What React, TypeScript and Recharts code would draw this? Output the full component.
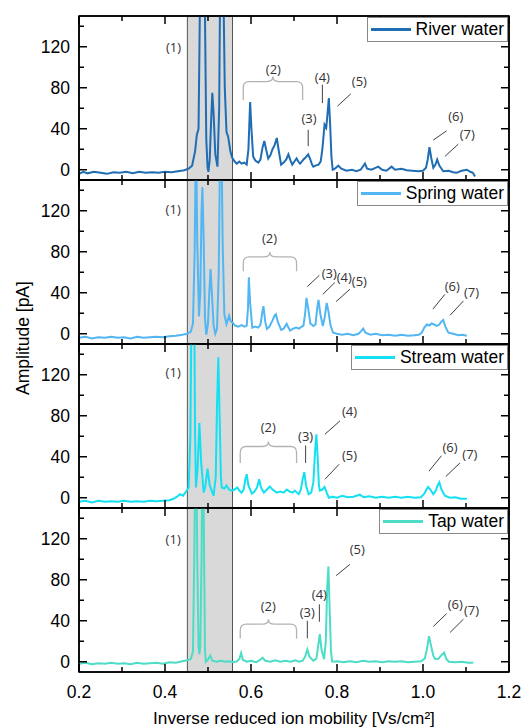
import { LineChart, Line, XAxis, YAxis, ReferenceArea, ReferenceLine, ReferenceDot, Legend } from 'recharts';

type Pt = [number, number];

// spectra: [1/K0 (Vs/cm²), amplitude (pA)]
const river: Pt[] = [
  [0.200, -4], [0.210, -2], [0.220, -3.5], [0.235, -2], [0.250, -3], [0.265, -4], [0.280, -2.5], [0.295, -3],
  [0.310, -2], [0.325, -3.5], [0.340, -2], [0.355, -3], [0.370, -2.5], [0.385, -3], [0.400, -2], [0.415, -2.5],
  [0.430, -1.5], [0.445, -0.5], [0.455, 1], [0.463, 4], [0.470, 18], [0.474, 34], [0.478, 40], [0.482, 190],
  [0.487, 260], [0.492, 190], [0.496, 30], [0.499, 2], [0.501, -2], [0.504, 10], [0.507, 45], [0.510, 75],
  [0.513, 55], [0.517, 15], [0.522, 3], [0.526, 60], [0.528, 170], [0.532, 230], [0.536, 170], [0.539, 80],
  [0.543, 37], [0.547, 32], [0.552, 18], [0.556, 12], [0.562, 8], [0.567, 6], [0.573, 8], [0.578, 6],
  [0.584, 7], [0.590, 5], [0.594, 20], [0.598, 66], [0.601, 40], [0.605, 13], [0.610, 9], [0.617, 7],
  [0.622, 10], [0.627, 22], [0.631, 28], [0.635, 20], [0.640, 11], [0.645, 14], [0.650, 20], [0.655, 24],
  [0.660, 31], [0.664, 20], [0.670, 5], [0.676, 7], [0.682, 10], [0.687, 15], [0.692, 9], [0.696, 5],
  [0.701, 8], [0.706, 11], [0.710, 8], [0.714, 6], [0.718, 8], [0.722, 10], [0.727, 12], [0.733, 15],
  [0.738, 10], [0.742, 5], [0.745, 3], [0.750, 4], [0.757, 5], [0.762, 8], [0.766, 20], [0.771, 44],
  [0.775, 41], [0.778, 55], [0.781, 70], [0.784, 45], [0.787, 13], [0.790, 0], [0.795, 1], [0.803, 4],
  [0.810, 1], [0.822, -1], [0.835, 0], [0.845, -1.5], [0.855, 0], [0.865, 6], [0.870, 1], [0.880, 0],
  [0.896, 3], [0.905, 0], [0.915, -1], [0.927, 3], [0.935, 0], [0.950, 1], [0.962, -0.5], [0.975, -1],
  [0.990, -1.5], [1.000, -1], [1.007, 2], [1.011, 10], [1.015, 22], [1.019, 12], [1.024, 2], [1.029, 5],
  [1.033, 10], [1.038, 4], [1.047, -1.5], [1.060, -1], [1.070, -2.5], [1.078, -3], [1.090, -1], [1.102, 0],
  [1.110, -2], [1.116, -3], [1.121, -6.5],
];

const spring: Pt[] = [
  [0.200, -4], [0.215, -3], [0.230, -4.5], [0.245, -3.5], [0.260, -4], [0.275, -3], [0.290, -4], [0.305, -3.5],
  [0.320, -4.5], [0.335, -3], [0.350, -4], [0.365, -3.5], [0.380, -3], [0.395, -3.5], [0.410, -2.5], [0.425, -2],
  [0.440, -1], [0.452, 0], [0.460, 2], [0.465, 10], [0.469, 80], [0.472, 200], [0.475, 90], [0.479, 17],
  [0.482, 40], [0.485, 120], [0.487, 143], [0.490, 90], [0.493, 15], [0.496, -1], [0.500, 10], [0.503, 40],
  [0.506, 63], [0.509, 40], [0.513, 8], [0.517, 0], [0.521, 5], [0.525, 60], [0.528, 180], [0.531, 200],
  [0.534, 90], [0.538, 19], [0.543, 9.5], [0.549, 17.7], [0.553, 12], [0.557, 11], [0.563, 8], [0.570, 7],
  [0.578, 8.5], [0.585, 7], [0.590, 8], [0.593, 25], [0.595, 55], [0.598, 30], [0.603, 6], [0.610, 7],
  [0.617, 6], [0.622, 9], [0.626, 20], [0.629, 27], [0.633, 12], [0.637, 4.7], [0.643, 7], [0.650, 13],
  [0.655, 18], [0.658, 19], [0.662, 12], [0.670, 3.7], [0.676, 5], [0.683, 9.6], [0.687, 6], [0.691, 3],
  [0.698, 5], [0.705, 6], [0.712, 5], [0.718, 7], [0.722, 8], [0.726, 20], [0.729, 35], [0.733, 25],
  [0.738, 10], [0.745, 7.6], [0.750, 9], [0.754, 25], [0.757, 33], [0.761, 20], [0.767, 7.6], [0.771, 15],
  [0.776, 30], [0.780, 22], [0.785, 8], [0.791, 1], [0.800, 0], [0.812, -1], [0.825, 0], [0.838, -1.5],
  [0.850, 0], [0.857, 3], [0.861, 5], [0.866, 1], [0.878, -1], [0.890, 0], [0.905, -1.5], [0.920, -1],
  [0.935, -2], [0.950, -1], [0.965, -2], [0.980, -1.5], [0.990, -1], [0.997, 1], [1.003, 6], [1.009, 9],
  [1.015, 8], [1.020, 10], [1.026, 9], [1.032, 7.6], [1.038, 9], [1.043, 12], [1.047, 13.5], [1.052, 7],
  [1.059, 1], [1.070, 0], [1.082, -1.5], [1.092, -1], [1.102, -2],
];

const stream: Pt[] = [
  [0.200, -4], [0.215, -3], [0.230, -4.5], [0.245, -3], [0.260, -4], [0.275, -3.5], [0.290, -4], [0.305, -3],
  [0.320, -4], [0.335, -3.5], [0.350, -4], [0.365, -3], [0.380, -3.5], [0.395, -3], [0.410, -2.5], [0.420, -1],
  [0.428, 1], [0.435, 3.4], [0.442, 2], [0.450, 6.6], [0.455, 10], [0.459, 60], [0.463, 250], [0.467, 250],
  [0.470, 60], [0.472, 10], [0.476, 30], [0.480, 73], [0.484, 35], [0.490, 5], [0.494, 12], [0.499, 28.5],
  [0.504, 12], [0.513, 2], [0.518, 20], [0.521, 90], [0.524, 137], [0.527, 80], [0.530, 20], [0.532, 10],
  [0.538, 9], [0.543, 12], [0.549, 8], [0.555, 7], [0.562, 8], [0.568, 10], [0.573, 7], [0.578, 5],
  [0.583, 8], [0.587, 18], [0.590, 23], [0.594, 12], [0.602, 4], [0.608, 6], [0.614, 10], [0.619, 18],
  [0.623, 10], [0.630, 5], [0.637, 8], [0.644, 11], [0.650, 8], [0.660, 5], [0.668, 6], [0.676, 5],
  [0.683, 8], [0.690, 6], [0.697, 5], [0.702, 7], [0.707, 5], [0.711, 3.5], [0.716, 8], [0.720, 18],
  [0.724, 25], [0.728, 12], [0.734, 3.5], [0.740, 5], [0.745, 15], [0.749, 45], [0.752, 62], [0.755, 40],
  [0.758, 12], [0.760, 7], [0.766, 8], [0.771, 10.5], [0.776, 5], [0.781, 0], [0.790, 1], [0.800, 0],
  [0.812, 2], [0.825, 0.5], [0.838, 1], [0.853, 3], [0.862, 0.5], [0.875, 1.5], [0.890, 0], [0.905, 1],
  [0.920, 0], [0.935, 1], [0.950, 0], [0.965, 1], [0.980, 0], [0.995, 0.5], [1.003, 4], [1.008, 8],
  [1.012, 10.5], [1.017, 8], [1.024, 3.5], [1.030, 7], [1.034, 12], [1.038, 15], [1.043, 8], [1.051, 2],
  [1.062, 0], [1.075, 0.5], [1.088, -1], [1.102, -1],
];

const tap: Pt[] = [
  [0.200, -2], [0.215, -1], [0.230, -2.5], [0.245, -1.5], [0.260, -2], [0.275, -1], [0.290, -2], [0.305, -1.5],
  [0.320, -2.5], [0.335, -1], [0.350, -2], [0.365, -1.5], [0.380, -1], [0.395, -2], [0.410, -0.5], [0.425, -1],
  [0.440, 0.5], [0.452, 1.5], [0.460, 2.6], [0.465, 10], [0.468, 100], [0.472, 250], [0.475, 100], [0.478, 15],
  [0.480, 7.5], [0.482, 15], [0.485, 100], [0.488, 250], [0.491, 100], [0.493, 10], [0.495, 0], [0.500, 2],
  [0.505, 6], [0.510, 1], [0.520, 0], [0.530, 1], [0.540, 0], [0.550, 0.5], [0.560, -0.5], [0.568, 0.5],
  [0.573, 3], [0.577, 8.5], [0.581, 2], [0.590, 0], [0.600, 1], [0.612, -0.5], [0.622, 2], [0.627, 4],
  [0.633, 1], [0.645, 0], [0.657, 1.5], [0.668, 0], [0.680, 1], [0.692, 0], [0.703, 1.5], [0.712, 0],
  [0.720, 1], [0.726, 5], [0.731, 12], [0.736, 5], [0.745, 1], [0.752, 3], [0.756, 15], [0.760, 27],
  [0.764, 12], [0.770, 2.5], [0.774, 20], [0.777, 70], [0.780, 93], [0.783, 50], [0.786, 10], [0.789, 0],
  [0.800, 0.5], [0.815, -0.5], [0.830, 0.5], [0.845, -0.5], [0.860, 1], [0.875, 0], [0.890, 0.5], [0.905, -0.5],
  [0.920, 0.5], [0.935, 0], [0.950, 0.5], [0.965, -0.5], [0.980, 0], [0.995, 0.5], [1.004, 3], [1.009, 12],
  [1.014, 25], [1.019, 15], [1.024, 6], [1.028, 2.7], [1.036, 3], [1.042, 6], [1.049, 9], [1.054, 3],
  [1.060, 0], [1.075, -0.5], [1.090, 0], [1.105, -1], [1.117, -1],
];

const names = ['River water', 'Spring water', 'Stream water', 'Tap water'];
const colors = ['#1f6db3', '#52b6f2', '#14e0f2', '#4ddcc6'];

const xTicks = [0.2, 0.3, 0.4, 0.5, 0.6, 0.7, 0.8, 0.9, 1.0, 1.1, 1.2];
const yTicks = [0, 20, 40, 60, 80, 100, 120, 140];
const xRange = [0.2, 1.2];
const yRange = [-10, 150];
const shade = [0.452, 0.557];

// peak labels [text, x, y], leader lines [x1, y1, x2, y2], brace [xFrom, xTo, yEnds, yTop]
const riverLabels: [string, number, number][] = [
  ['(1)', 0.42, 119], ['(2)', 0.652, 98], ['(3)', 0.735, 50], ['(4)', 0.766, 90],
  ['(5)', 0.852, 86], ['(6)', 1.076, 52], ['(7)', 1.103, 34],
];
const riverLeaders: number[][] = [
  [0.733, 39, 0.733, 23], [0.766, 83, 0.766, 65], [0.832, 74, 0.801, 62], [1.055, 38, 1.024, 29], [1.082, 25, 1.051, 13],
];
const riverBrace = [0.582, 0.72, 68, 86];

const springLabels: [string, number, number][] = [
  ['(1)', 0.419, 121], ['(2)', 0.643, 93], ['(3)', 0.782, 59], ['(4)', 0.817, 55],
  ['(5)', 0.852, 51.5], ['(6)', 1.068, 46.6], ['(7)', 1.113, 40],
];
const springLeaders: number[][] = [
  [0.759, 57, 0.731, 46], [0.795, 50, 0.767, 38.5], [0.83, 43.4, 0.798, 31.4], [1.051, 38.5, 1.023, 24], [1.094, 32, 1.063, 18],
];
const springBrace = [0.582, 0.706, 61, 75];

const streamLabels: [string, number, number][] = [
  ['(1)', 0.419, 122], ['(2)', 0.64, 68.5], ['(3)', 0.727, 60], ['(4)', 0.829, 84],
  ['(5)', 0.829, 41], ['(6)', 1.063, 49], ['(7)', 1.109, 42.4],
];
const streamLeaders: number[][] = [
  [0.727, 51, 0.727, 34], [0.807, 75, 0.772, 62], [0.805, 32.7, 0.772, 18], [1.043, 41, 1.014, 26], [1.086, 34, 1.053, 20.7],
];
const streamBrace = [0.575, 0.706, 34, 50];

const tapLabels: [string, number, number][] = [
  ['(1)', 0.419, 119], ['(2)', 0.64, 54], ['(3)', 0.731, 48], ['(4)', 0.759, 66],
  ['(5)', 0.847, 110], ['(6)', 1.075, 56], ['(7)', 1.113, 50],
];
const tapLeaders: number[][] = [
  [0.731, 40, 0.731, 22.8], [0.759, 56, 0.759, 39], [0.83, 95, 0.798, 84], [1.055, 47, 1.024, 34.4], [1.094, 41.5, 1.063, 28.6],
];
const tapBrace = [0.575, 0.706, 22.8, 36.7];

const panels = [
  { data: river, labels: riverLabels, leaders: riverLeaders, brace: riverBrace },
  { data: spring, labels: springLabels, leaders: springLeaders, brace: springBrace },
  { data: stream, labels: streamLabels, leaders: streamLeaders, brace: streamBrace },
  { data: tap, labels: tapLabels, leaders: tapLeaders, brace: tapBrace },
];

const FONT = "'Liberation Sans', Arial, sans-serif";
const NOTE_FONT = "'Open Sans', 'Liberation Sans', sans-serif";
const PLOT_H = 164;
const AXIS = { stroke: '#000', strokeWidth: 1.5 };

const majorX = (v: number) => Math.round(v * 10) % 2 === 0;
const majorY = (v: number) => v % 40 === 0;

// ticks point inward on all four sides, as in the original
function BottomTick({ x, y, payload, showLabel }: any) {
  const major = majorX(payload.value);
  return (
    <g>
      <path d={`M${x},${y}V${y - (major ? 8 : 5)}`} stroke="#000" strokeWidth={1.5} fill="none" />
      {showLabel && major && (
        <text x={x} y={y + 20} dy="0.35em" textAnchor="middle" fontSize={17.5} fontFamily={FONT} fill="#000">
          {payload.value.toFixed(1)}
        </text>
      )}
    </g>
  );
}

function TopTick({ x, y, payload }: any) {
  const major = majorX(payload.value);
  return <path d={`M${x},${y}V${y + (major ? 8 : 5)}`} stroke="#000" strokeWidth={1.5} fill="none" />;
}

function LeftTick({ x, y, payload }: any) {
  const major = majorY(payload.value);
  return (
    <g>
      <path d={`M${x},${y}H${x + (major ? 8 : 5)}`} stroke="#000" strokeWidth={1.5} fill="none" />
      {major && (
        <text x={x - 9} y={y} dy="0.35em" textAnchor="end" fontSize={17.5} fontFamily={FONT} fill="#000">
          {payload.value}
        </text>
      )}
    </g>
  );
}

function RightTick({ x, y, payload }: any) {
  const major = majorY(payload.value);
  return <path d={`M${x},${y}H${x - (major ? 8 : 5)}`} stroke="#000" strokeWidth={1.5} fill="none" />;
}

function Brace({ x, y, width, height }: any) {
  const r = 6;
  const mid = x + width / 2;
  const d = `M${x},${y + height} L${x},${y + r} Q${x},${y} ${x + r},${y} L${mid - r},${y} Q${mid},${y} ${mid},${y - 5}`
    + ` Q${mid},${y} ${mid + r},${y} L${x + width - r},${y} Q${x + width},${y} ${x + width},${y + r} L${x + width},${y + height}`;
  return <path d={d} fill="none" stroke="#b3b3b3" strokeWidth={1.3} />;
}

function Frame({ x, y, width, height }: any) {
  return <rect x={x} y={y} width={width} height={height} fill="none" stroke="#000" strokeWidth={1.5} />;
}

function Panel({ index }: { index: number }) {
  const p = panels[index];
  const last = index === panels.length - 1;
  const rows = p.data.map(([x, y]) => ({ x, y }));
  const color = colors[index];
  const name = names[index];
  const bottomH = last ? 56 : 1;
  return (
    <LineChart width={523} height={1 + PLOT_H + bottomH} data={rows} margin={{ top: 0, right: 13, bottom: 0, left: 0 }}>
      <ReferenceArea x1={shade[0]} x2={shade[1]} fill="#d9d9d9" fillOpacity={1} stroke="#555" strokeWidth={1} />
      <ReferenceArea
        x1={p.brace[0]} x2={p.brace[1]} y1={p.brace[2]} y2={p.brace[3]}
        shape={(s: any) => <Brace {...s} />}
      />
      {p.leaders.map((l, i) => (
        <ReferenceLine key={`l${i}`} segment={[{ x: l[0], y: l[1] }, { x: l[2], y: l[3] }]} stroke="#404040" strokeWidth={1} />
      ))}
      {p.labels.map(([text, x, y]) => (
        <ReferenceDot
          key={text} x={x} y={y} r={0}
          shape={(s: any) => (
            <text x={s.cx} y={s.cy} dy="0.35em" textAnchor="middle" fontSize={13} fontFamily={NOTE_FONT} fill="#333">
              {text}
            </text>
          )}
        />
      ))}
      <Line type="linear" dataKey="y" name={name} stroke={color} strokeWidth={2} dot={false} isAnimationActive={false} />
      <ReferenceArea x1={xRange[0]} x2={xRange[1]} y1={yRange[0]} y2={yRange[1]} shape={(s: any) => <Frame {...s} />} />
      <XAxis
        dataKey="x" type="number" domain={xRange} ticks={xTicks} interval={0}
        height={bottomH} tickSize={0} tickMargin={0} tickLine={false} axisLine={AXIS}
        tick={(t: any) => <BottomTick {...t} showLabel={last} />}
        label={last ? { value: 'Inverse reduced ion mobility [Vs/cm²]', position: 'insideBottom', offset: 4, fontSize: 17.2, fontFamily: FONT, fill: '#000' } : undefined}
      />
      <XAxis
        xAxisId="top" orientation="top" dataKey="x" type="number" domain={xRange} ticks={xTicks} interval={0}
        height={1} tickSize={0} tickMargin={0} tickLine={false} axisLine={AXIS} tick={(t: any) => <TopTick {...t} />}
      />
      <YAxis
        type="number" domain={yRange} allowDataOverflow ticks={yTicks} interval={0} width={79}
        tickSize={0} tickMargin={0} tickLine={false} axisLine={AXIS} tick={(t: any) => <LeftTick {...t} />}
      />
      <YAxis
        yAxisId="right" orientation="right" type="number" domain={yRange} allowDataOverflow ticks={yTicks} interval={0}
        width={1} tickSize={0} tickMargin={0} tickLine={false} axisLine={AXIS} tick={(t: any) => <RightTick {...t} />}
      />
      <Legend
        layout="vertical" align="center" verticalAlign="middle"
        wrapperStyle={{ top: 2, right: 15, width: 'auto', height: 'auto' }}
        content={() => (
          <div style={{
            display: 'flex', alignItems: 'center', height: 23, padding: '0 3px', border: '1px solid #888',
            background: '#fff', fontFamily: FONT, fontSize: 17.5, color: '#000', whiteSpace: 'nowrap',
          }}>
            <span style={{ display: 'inline-block', width: 40, height: 2.5, background: color, marginRight: 5 }} />
            <span>{name}</span>
          </div>
        )}
      />
    </LineChart>
  );
}

export default function App() {
  // plot areas start at y = 16 and are stacked without gaps
  const tops = [15, 15 + PLOT_H, 15 + 2 * PLOT_H, 15 + 3 * PLOT_H];
  return (
    <div style={{ position: 'absolute', left: 0, top: 0, width: 523, height: 728, background: '#fff', overflow: 'hidden' }}>
      {tops.map((t, i) => (
        <div key={i} style={{ position: 'absolute', left: 0, top: t }}>
          <Panel index={i} />
        </div>
      ))}
      <div style={{
        position: 'absolute', left: 23, top: 338, transform: 'translate(-50%, -50%) rotate(-90deg)',
        fontFamily: FONT, fontSize: 17.5, whiteSpace: 'nowrap', color: '#000',
      }}>
        Amplitude [pA]
      </div>
    </div>
  );
}
